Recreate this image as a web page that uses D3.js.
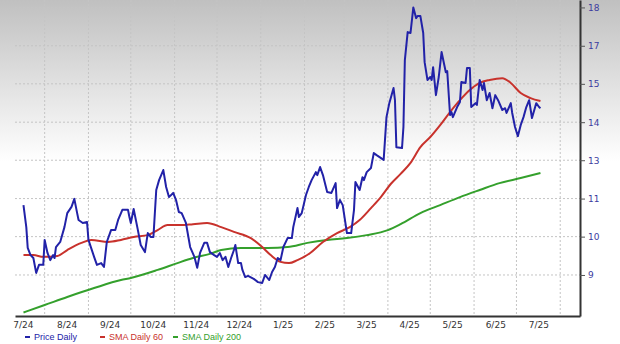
<!DOCTYPE html>
<html>
<head>
<meta charset="utf-8">
<script src="https://cdn.jsdelivr.net/npm/d3@7"></script>
<style>
  body { margin: 0; background: #fff; }
  svg { display: block; }
</style>
</head>
<body>
<script>
// series: [date, value]
const priceDaily = [
  ["2024-07-17",11.35],["2024-07-19",10.61],["2024-07-20",9.91],["2024-07-22",9.67],["2024-07-24",9.57],
  ["2024-07-26",9.07],["2024-07-28",9.34],["2024-07-31",9.34],["2024-08-01",10.18],["2024-08-03",9.74],
  ["2024-08-05",9.50],["2024-08-07",9.67],["2024-08-08",9.57],["2024-08-09",9.94],["2024-08-12",10.11],
  ["2024-08-15",10.61],["2024-08-17",11.08],["2024-08-20",11.29],["2024-08-22",11.56],["2024-08-24",11.08],
  ["2024-08-25",10.85],["2024-08-28",10.75],["2024-08-31",10.78],["2024-09-01",10.18],["2024-09-05",9.61],
  ["2024-09-07",9.34],["2024-09-10",9.40],["2024-09-12",9.27],["2024-09-14",10.11],["2024-09-17",10.51],
  ["2024-09-20",10.51],["2024-09-22",10.85],["2024-09-25",11.19],["2024-09-29",11.19],["2024-09-30",10.95],
  ["2024-10-01",10.75],["2024-10-03",11.22],["2024-10-06",10.51],["2024-10-08",10.01],["2024-10-11",9.77],
  ["2024-10-13",10.41],["2024-10-15",10.28],["2024-10-17",10.28],["2024-10-19",11.86],["2024-10-21",12.19],
  ["2024-10-24",12.53],["2024-10-26",11.96],["2024-10-28",11.62],["2024-10-31",11.76],["2024-11-02",11.52],
  ["2024-11-04",11.12],["2024-11-06",11.08],["2024-11-09",10.75],["2024-11-12",9.94],["2024-11-15",9.61],
  ["2024-11-17",9.24],["2024-11-19",9.74],["2024-11-22",10.08],["2024-11-24",10.08],["2024-11-26",9.77],
  ["2024-11-29",9.67],["2024-12-01",9.61],["2024-12-03",9.74],["2024-12-05",9.50],["2024-12-07",9.61],
  ["2024-12-09",9.27],["2024-12-11",9.57],["2024-12-13",9.84],["2024-12-14",10.01],["2024-12-16",9.40],
  ["2024-12-18",9.40],["2024-12-19",9.17],["2024-12-21",8.93],["2024-12-23",8.97],["2024-12-27",8.87],
  ["2024-12-30",8.76],["2025-01-02",8.73],["2025-01-04",9.00],["2025-01-07",8.83],["2025-01-09",9.10],
  ["2025-01-11",9.27],["2025-01-13",9.57],["2025-01-15",9.50],["2025-01-17",9.94],["2025-01-20",10.24],
  ["2025-01-23",10.24],["2025-01-24",10.61],["2025-01-27",11.25],["2025-01-28",10.95],["2025-01-30",11.08],
  ["2025-02-02",11.69],["2025-02-04",11.96],["2025-02-06",12.19],["2025-02-09",12.46],["2025-02-10",12.36],
  ["2025-02-12",12.63],["2025-02-14",12.36],["2025-02-17",11.79],["2025-02-20",11.76],["2025-02-23",12.09],
  ["2025-02-24",11.25],["2025-02-26",11.52],["2025-02-28",11.35],["2025-03-03",10.41],["2025-03-06",10.41],
  ["2025-03-08",11.19],["2025-03-09",12.13],["2025-03-12",11.86],["2025-03-14",12.29],["2025-03-15",12.19],
  ["2025-03-17",12.46],["2025-03-20",12.60],["2025-03-22",13.10],["2025-03-24",13.03],["2025-03-29",12.87],
  ["2025-03-31",14.31],["2025-04-02",14.78],["2025-04-05",15.29],["2025-04-06",14.88],["2025-04-07",13.30],
  ["2025-04-11",13.27],["2025-04-12",13.98],["2025-04-13",16.23],["2025-04-15",17.17],["2025-04-17",17.14],
  ["2025-04-19",18.00],["2025-04-21",17.64],["2025-04-22",17.71],["2025-04-24",17.71],["2025-04-26",17.14],
  ["2025-04-27",16.16],["2025-04-29",15.56],["2025-05-01",15.66],["2025-05-02",15.56],["2025-05-03",15.99],
  ["2025-05-05",15.05],["2025-05-07",15.66],["2025-05-09",16.50],["2025-05-12",15.82],["2025-05-13",15.86],
  ["2025-05-15",14.38],["2025-05-16",14.48],["2025-05-17",14.31],["2025-05-20",14.65],["2025-05-22",14.82],
  ["2025-05-23",15.49],["2025-05-26",15.46],["2025-05-27",15.96],["2025-05-29",15.96],["2025-05-30",14.65],
  ["2025-06-02",14.78],["2025-06-03",14.72],["2025-06-05",15.56],["2025-06-07",15.22],["2025-06-08",15.46],
  ["2025-06-10",14.88],["2025-06-12",15.12],["2025-06-14",14.61],["2025-06-16",15.05],["2025-06-18",14.88],
  ["2025-06-21",14.55],["2025-06-23",14.61],["2025-06-24",14.45],["2025-06-27",14.78],["2025-06-28",14.45],
  ["2025-06-30",13.98],["2025-07-02",13.67],["2025-07-04",14.04],["2025-07-06",14.31],["2025-07-08",14.65],
  ["2025-07-10",14.88],["2025-07-12",14.28],["2025-07-14",14.61],["2025-07-15",14.78],["2025-07-17",14.65],
  ["2025-07-18",14.61]
];

const smaDaily60 = [
  ["2024-07-17",9.67],["2024-07-24",9.67],["2024-07-31",9.61],["2024-08-10",9.64],["2024-08-17",9.84],
  ["2024-08-27",10.08],["2024-09-03",10.18],["2024-09-15",10.11],["2024-09-24",10.18],["2024-10-03",10.28],
  ["2024-10-13",10.34],["2024-10-20",10.51],["2024-10-27",10.68],["2024-11-05",10.68],["2024-11-14",10.71],
  ["2024-11-24",10.75],["2024-12-04",10.61],["2024-12-13",10.45],["2024-12-25",10.24],["2025-01-02",9.94],
  ["2025-01-08",9.67],["2025-01-15",9.44],["2025-01-21",9.40],["2025-01-27",9.50],["2025-02-05",9.74],
  ["2025-02-14",10.11],["2025-02-24",10.41],["2025-03-05",10.61],["2025-03-12",10.85],["2025-03-20",11.25],
  ["2025-03-27",11.62],["2025-04-03",12.06],["2025-04-10",12.40],["2025-04-17",12.77],["2025-04-24",13.30],
  ["2025-05-01",13.64],["2025-05-08",14.04],["2025-05-15",14.48],["2025-05-22",14.88],["2025-05-29",15.22],
  ["2025-06-05",15.46],["2025-06-12",15.56],["2025-06-21",15.62],["2025-06-27",15.46],["2025-07-04",15.12],
  ["2025-07-11",14.95],["2025-07-18",14.85]
];

const smaDaily200 = [
  ["2024-07-17",7.74],["2024-08-01",7.99],["2024-08-17",8.26],["2024-09-05",8.56],["2024-09-24",8.83],
  ["2024-10-01",8.90],["2024-10-20",9.17],["2024-11-03",9.40],["2024-11-14",9.57],["2024-11-26",9.71],
  ["2024-12-04",9.84],["2024-12-18",9.91],["2025-01-06",9.91],["2025-01-20",9.94],["2025-02-03",10.08],
  ["2025-02-17",10.18],["2025-03-03",10.24],["2025-03-17",10.34],["2025-04-01",10.51],["2025-04-10",10.71],
  ["2025-04-24",11.08],["2025-05-08",11.35],["2025-05-22",11.62],["2025-06-05",11.86],["2025-06-19",12.09],
  ["2025-07-04",12.26],["2025-07-18",12.43]
];

const monthLabels = ["7/24","8/24","9/24","10/24","11/24","12/24","1/25","2/25","3/25","4/25","5/25","6/25","7/25"];
const yTickValues = [9, 10.29, 11.57, 12.86, 14.14, 15.43, 16.71, 18];
const yTickLabels = ["9","10","11","13","14","15","17","18"];

const legendItems = [
  {name: "Price Daily", color: "#2222a8"},
  {name: "SMA Daily 60", color: "#c8322c"},
  {name: "SMA Daily 200", color: "#34a02c"}
];

const width = 620;
const height = 344;
const margin = {top: 0, right: 40, bottom: 28, left: 15};
const innerW = width - margin.left - margin.right;
const innerH = height - margin.top - margin.bottom;

const parseDate = d3.timeParse("%Y-%m-%d");
const toPoints = arr => arr.map(d => ({date: parseDate(d[0]), value: d[1]}));

const svg = d3.select("body").append("svg")
  .attr("width", width)
  .attr("height", height);

// grey-to-white backdrop
const grad = svg.append("defs").append("linearGradient")
  .attr("id", "bg").attr("x1", 0).attr("y1", 0).attr("x2", 0).attr("y2", 1);
grad.append("stop").attr("offset", "0%").attr("stop-color", "#c0c0c0");
grad.append("stop").attr("offset", "47%").attr("stop-color", "#ffffff");
grad.append("stop").attr("offset", "100%").attr("stop-color", "#ffffff");
svg.append("rect").attr("width", width).attr("height", height).attr("fill", "url(#bg)");

const g = svg.append("g").attr("transform", `translate(${margin.left},${margin.top})`);

const x = d3.scaleTime()
  .domain([parseDate("2024-07-11"), parseDate("2025-08-15")])
  .range([0, innerW]);

const y = d3.scaleLinear()
  .domain([7.62, 18.25])
  .range([innerH, 0]);

// month boundaries for vertical grid, midpoints for labels
const monthStarts = monthLabels.map((m, i) => d3.timeMonth.offset(parseDate("2024-07-01"), i));
const gridMonths = monthStarts.map(d => d3.timeMonth.offset(d, 1));
const labelDates = monthStarts.map(d => new Date((+d + +d3.timeMonth.offset(d, 1)) / 2));

g.append("g")
  .selectAll("line")
  .data(yTickValues)
  .join("line")
  .attr("x1", 0).attr("x2", innerW)
  .attr("y1", d => y(d)).attr("y2", d => y(d))
  .attr("stroke", "#c4c4c4")
  .attr("stroke-dasharray", "2,2");

g.append("g")
  .selectAll("line")
  .data(gridMonths.filter(d => x(d) < innerW))
  .join("line")
  .attr("x1", d => x(d)).attr("x2", d => x(d))
  .attr("y1", 0).attr("y2", innerH)
  .attr("stroke", "#c4c4c4")
  .attr("stroke-dasharray", "2,2");

const line = d3.line()
  .x(d => x(d.date))
  .y(d => y(d.value));

const smoothLine = d3.line()
  .curve(d3.curveMonotoneX)
  .x(d => x(d.date))
  .y(d => y(d.value));

const series = [
  {data: smaDaily200, color: legendItems[2].color, gen: smoothLine},
  {data: smaDaily60, color: legendItems[1].color, gen: smoothLine},
  {data: priceDaily, color: legendItems[0].color, gen: line}
];

series.forEach(s => {
  g.append("path")
    .datum(toPoints(s.data))
    .attr("fill", "none")
    .attr("stroke", s.color)
    .attr("stroke-width", 2)
    .attr("stroke-linejoin", "round")
    .attr("d", s.gen);
});

// axes
const xAxis = g.append("g")
  .attr("transform", `translate(0,${innerH})`)
  .call(d3.axisBottom(x)
    .tickValues(labelDates)
    .tickFormat((d, i) => monthLabels[i])
    .tickSize(0)
    .tickPadding(6));
xAxis.select(".domain").attr("stroke", "#333").attr("stroke-width", 2);
xAxis.selectAll("text")
  .attr("fill", "#333")
  .style("font-family", "DejaVu Sans, Verdana, sans-serif")
  .style("font-size", "9px");

const yAxis = g.append("g")
  .attr("transform", `translate(${innerW},0)`)
  .call(d3.axisRight(y)
    .tickValues(yTickValues)
    .tickFormat((d, i) => yTickLabels[i])
    .tickSizeInner(5)
    .tickSizeOuter(0)
    .tickPadding(3));
yAxis.select(".domain").attr("stroke", "#333").attr("stroke-width", 2);
yAxis.selectAll(".tick line").attr("stroke", "#555");
yAxis.selectAll("text")
  .attr("fill", "#3c3ca0")
  .style("font-family", "DejaVu Sans, Verdana, sans-serif")
  .style("font-size", "9px");

// legend
const legendOffsets = [0, 75, 148];
const legend = svg.append("g").attr("transform", "translate(25,337)");
legendItems.forEach((item, i) => {
  const lg = legend.append("g").attr("transform", `translate(${legendOffsets[i]},0)`);
  lg.append("line")
    .attr("x1", 0).attr("x2", 5)
    .attr("y1", 0).attr("y2", 0)
    .attr("stroke", item.color)
    .attr("stroke-width", 2);
  lg.append("text")
    .attr("x", 9)
    .attr("y", 3)
    .attr("fill", item.color)
    .style("font-family", "Liberation Sans, Arial, sans-serif")
    .style("font-size", "9px")
    .text(item.name);
});
</script>
</body>
</html>
